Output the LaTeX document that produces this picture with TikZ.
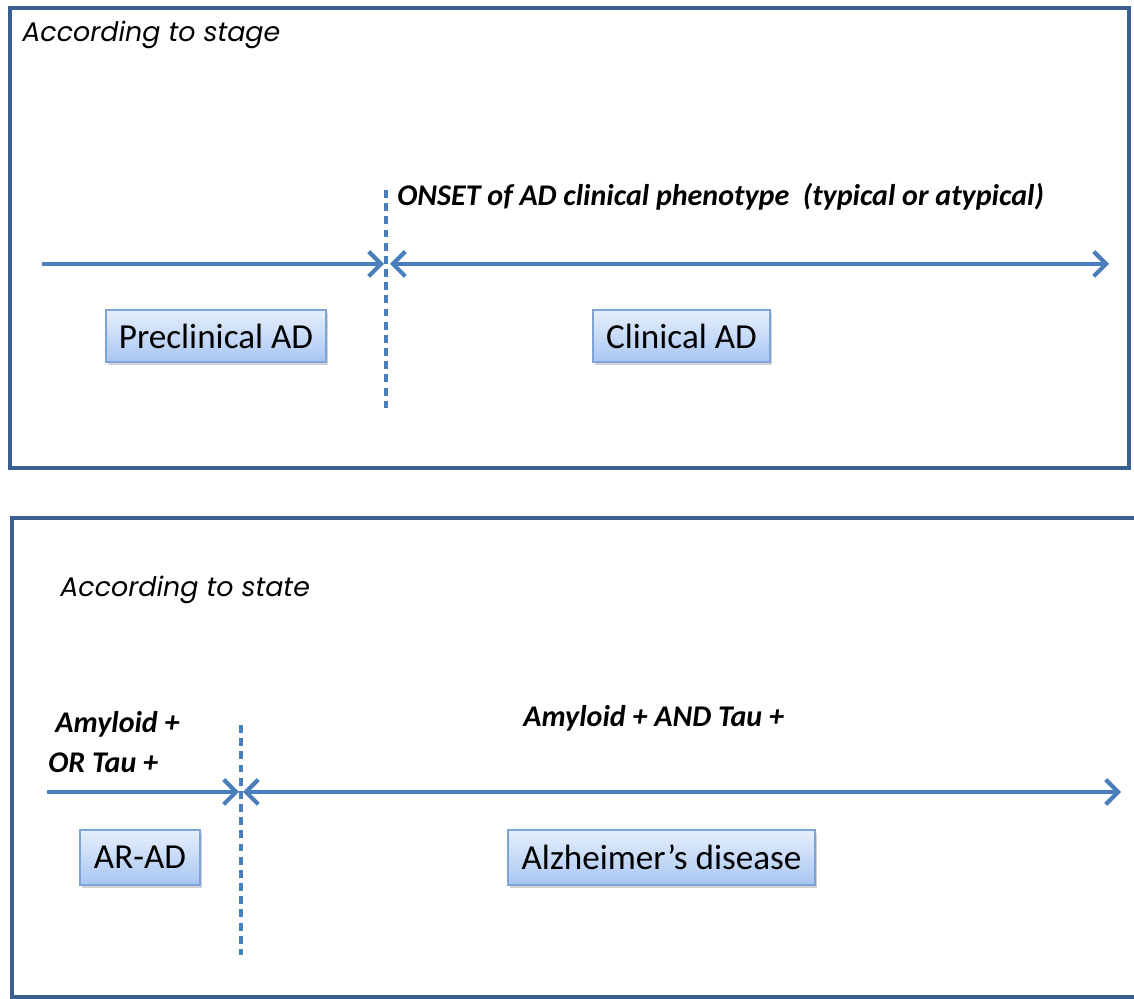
\documentclass[tikz,border=0pt]{standalone}
\usepackage{fontspec}
\setmainfont{Carlito}
\newfontfamily\geofont{Poppins}
\usetikzlibrary{
    arrows.meta,
    shadows,
    positioning
}
\definecolor{frameblue}{HTML}{3B5F8E}
\definecolor{arrowblue}{HTML}{4A7EBB}
\definecolor{boxtop}{HTML}{E6EFFC}
\definecolor{boxbot}{HTML}{A8C6F2}
\definecolor{boxline}{HTML}{7EA3D6}
\tikzset{
    frame/.style={draw=frameblue, line width=2.3pt},
    barb/.tip={Straight Barb[length=7pt, width=14pt, line width=2.4pt]},
    timeline/.style={draw=arrowblue, line width=2.4pt, arrows={-barb}},
    twoway/.style={draw=arrowblue, line width=2.4pt, arrows={barb-barb}},
    onset/.style={draw=arrowblue, line width=2.1pt, dash pattern=on 4.5pt off 3pt},
    phase/.style={draw=boxline, line width=0.8pt, top color=boxtop, bottom color=boxbot,
        drop shadow={shadow xshift=1pt, shadow yshift=-1.5pt, opacity=0.35},
        font=\fontsize{20}{24}\selectfont, inner sep=0pt},
    heading/.style={font=\geofont\itshape\fontsize{15.3}{18}\selectfont, anchor=west, inner sep=0pt},
    cond/.style={font=\bfseries\itshape\fontsize{17.1}{23}\selectfont, inner sep=0pt}
}
\begin{document}
\begin{tikzpicture}[x=0.02cm, y=-0.02cm]
    \useasboundingbox (0,0) rectangle (1134,999);

    % upper panel
    \draw[frame] (10,8) rectangle (1129,468);
    \node[heading] (stagetitle) at (22,35) {According to stage};
    \coordinate (onsettop) at (386,190);
    \coordinate (onsetbot) at (386,408);
    \draw[onset] (onsettop) -- (onsetbot);
    \node[cond, anchor=west] (onsetlabel) at (397,197) {ONSET of AD clinical phenotype~~(typical or atypical)};
    \coordinate (prestart) at (42,264);
    \coordinate (preend) at (384,264);
    \coordinate (clinstart) at (390,264);
    \coordinate (clinend) at (1109,264);
    \draw[timeline] (prestart) -- (preend);
    \draw[twoway] (clinstart) -- (clinend);
    \node[phase, minimum width=4.4cm, minimum height=1.04cm] (preclin) at (216,336) {Preclinical AD};
    \node[phase, minimum width=3.54cm, minimum height=1.04cm] (clin) at (681.5,336) {Clinical AD};

    % lower panel
    \draw[frame] (12,518) rectangle (1145,997);
    \node[heading] (statetitle) at (60,590) {According to state};
    \coordinate (statetop) at (241,725);
    \coordinate (statebot) at (241,955);
    \draw[onset] (statetop) -- (statebot);
    \node[cond, align=left, anchor=west] (eitherlabel) at (48,742) {\hspace*{4pt}Amyloid +\\OR Tau +};
    \node[cond, anchor=west] (bothlabel) at (523,718) {Amyloid + AND Tau +};
    \coordinate (arstart) at (47,792);
    \coordinate (arend) at (239,792);
    \coordinate (adstart) at (243,792);
    \coordinate (adend) at (1121,792);
    \draw[timeline] (arstart) -- (arend);
    \draw[twoway] (adstart) -- (adend);
    \node[phase, minimum width=2.4cm, minimum height=1.1cm] (arad) at (140,857.5) {AR-AD};
    \node[phase, minimum width=6.14cm, minimum height=1.1cm] (alz) at (661.5,857.5) {Alzheimer’s disease};
\end{tikzpicture}
\end{document}
